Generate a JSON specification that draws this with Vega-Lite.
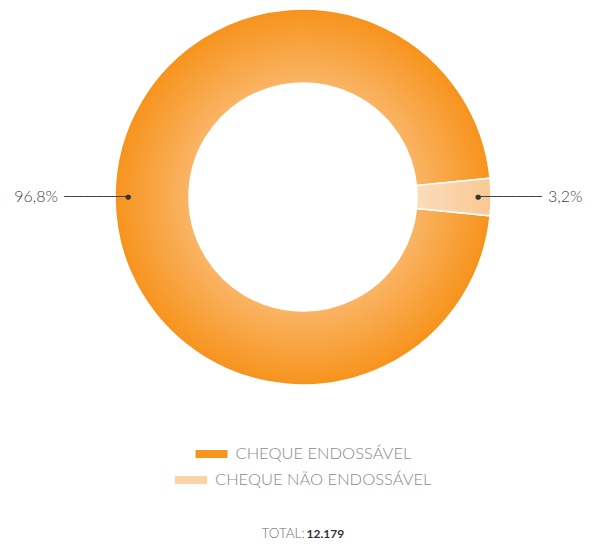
{
  "$schema": "https://vega.github.io/schema/vega-lite/v6.json",
  "width": 578,
  "height": 394,
  "autosize": {"type": "none"},
  "padding": {"left": 14, "top": 0, "right": 0, "bottom": 154},
  "background": "white",
  "config": {
    "view": {"stroke": null},
    "locale": {"number": {"decimal": ",", "thousands": ".", "grouping": [3], "currency": ["R$", ""]}},
    "text": {"font": "Lato"},
    "legend": {
      "orient": "bottom",
      "offset": 43,
      "padding": 0,
      "labelFont": "Lato",
      "labelFontSize": 16.5,
      "labelFontWeight": 300,
      "labelColor": "#8a8a8a",
      "labelOffset": 7,
      "labelLimit": 0,
      "symbolType": "M-1,-0.25H1V0.25H-1Z",
      "symbolSize": 1024,
      "layout": {"bottom": {"anchor": "middle", "direction": "vertical", "center": true, "margin": -4, "offset": 43}}
    }
  },
  "data": {"values": [
    {"tipo": "CHEQUE ENDOSSÁVEL", "valor": 11790, "percentual": 0.968},
    {"tipo": "CHEQUE NÃO ENDOSSÁVEL", "valor": 389, "percentual": 0.032}
  ]},
  "layer": [
    {
      "mark": {"type": "arc", "innerRadius": 114, "outerRadius": 188, "stroke": "white", "strokeWidth": 1.5},
      "encoding": {
        "theta": {"field": "valor", "type": "quantitative", "stack": true, "scale": {"range": [1.6711, 7.9543]}},
        "order": {"field": "valor", "sort": "descending"},
        "detail": {"field": "tipo"},
        "fill": {
          "condition": {
            "test": "datum.tipo === 'CHEQUE ENDOSSÁVEL'",
            "value": {"gradient": "radial", "x1": 0.5, "y1": 0.5, "r1": 0.3, "x2": 0.5, "y2": 0.5, "r2": 0.5,
              "stops": [{"offset": 0, "color": "#FAB566"}, {"offset": 1, "color": "#F7931C"}]}
          },
          "value": {"gradient": "linear", "x1": 0, "y1": 0.5, "x2": 1, "y2": 0.5,
            "stops": [{"offset": 0, "color": "#FCDCBA"}, {"offset": 1, "color": "#F9C994"}]}
        }
      }
    },
    {
      "mark": {"type": "text", "text": "──────────", "radius": 207, "font": "DejaVu Sans Mono", "fontSize": 10.6, "color": "#3a3a3a"},
      "encoding": {
        "theta": {"field": "valor", "type": "quantitative", "stack": true},
        "order": {"field": "valor", "sort": "descending"},
        "detail": {"field": "tipo"}
      }
    },
    {
      "mark": {"type": "text", "text": "●", "radius": 175, "font": "DejaVu Sans", "fontSize": 7, "color": "#333333"},
      "encoding": {
        "theta": {"field": "valor", "type": "quantitative", "stack": true},
        "order": {"field": "valor", "sort": "descending"},
        "detail": {"field": "tipo"}
      }
    },
    {
      "mark": {"type": "text", "radius": 245, "font": "Lato", "fontSize": 16, "fontWeight": 300, "color": "#444444",
        "align": {"expr": "datum.tipo === 'CHEQUE ENDOSSÁVEL' ? 'right' : 'left'"}},
      "encoding": {
        "theta": {"field": "valor", "type": "quantitative", "stack": true},
        "order": {"field": "valor", "sort": "descending"},
        "detail": {"field": "tipo"},
        "text": {"field": "percentual", "type": "quantitative", "format": ".1%"}
      }
    },
    {
      "transform": [{"filter": "datum.tipo === 'CHEQUE ENDOSSÁVEL'"}],
      "mark": {"type": "arc", "innerRadius": 0, "outerRadius": 0, "strokeWidth": 0},
      "encoding": {
        "fill": {"field": "tipo", "type": "nominal", "scale": {"range": ["#F7961F"]},
          "legend": {"title": null,
            "encode": {"symbols": {"update": {"stroke": {"value": "transparent"}, "opacity": {"value": 1}}}}}}
      }
    },
    {
      "transform": [{"filter": "datum.tipo === 'CHEQUE NÃO ENDOSSÁVEL'"}],
      "mark": {"type": "arc", "innerRadius": 0, "outerRadius": 0, "strokeWidth": 0},
      "encoding": {
        "color": {"field": "tipo", "type": "nominal", "scale": {"range": ["#FBD3A7"]},
          "legend": {"title": null,
            "encode": {"symbols": {"update": {
              "fill": {"value": {"gradient": "linear", "x1": 0, "y1": 0.5, "x2": 1, "y2": 0.5,
                "stops": [{"offset": 0, "color": "#FBCF9F"}, {"offset": 1, "color": "#FDEAD5"}]}},
              "stroke": {"value": "transparent"}, "opacity": {"value": 1}}}}}}
      }
    },
    {
      "transform": [{"aggregate": [{"op": "sum", "field": "valor", "as": "total"}]}],
      "mark": {"type": "arc", "innerRadius": 0, "outerRadius": 0, "strokeWidth": 0},
      "encoding": {
        "opacity": {"field": "total", "type": "ordinal",
          "legend": {
            "title": "TOTAL:", "titleOrient": "left", "titleFont": "Lato", "titleFontSize": 13.5, "titleFontWeight": 300,
            "titleColor": "#707070", "titlePadding": 3,
            "labelFont": "Lato", "labelFontSize": 12, "labelFontWeight": "bold", "labelColor": "#333333", "labelOffset": -14,
            "symbolSize": 0, "symbolOpacity": 0, "padding": 39,
            "labelExpr": "format(datum.value, ',d')"
          }}
      }
    }
  ]
}
